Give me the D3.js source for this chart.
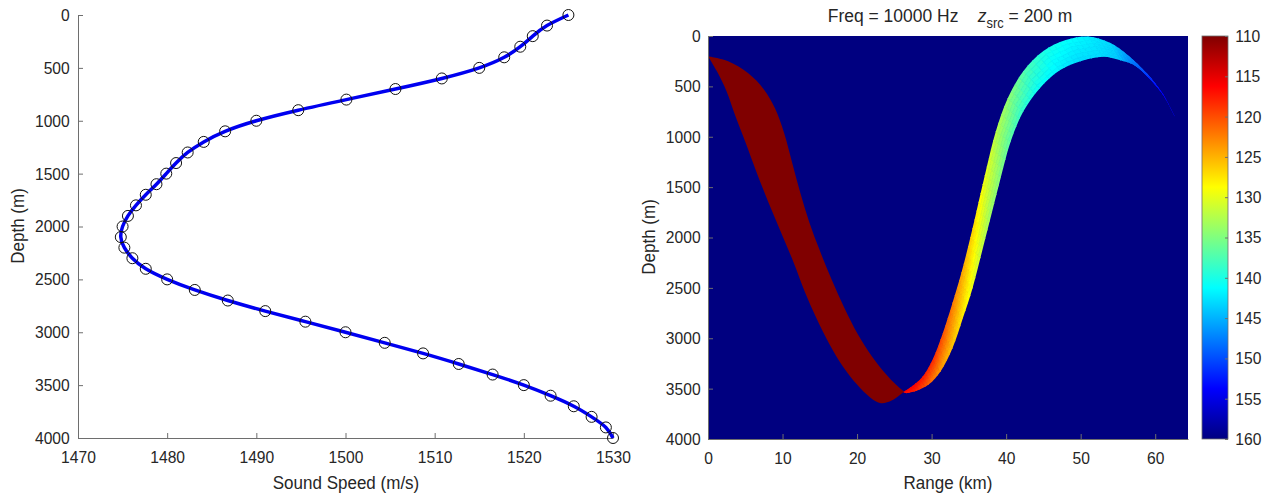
<!DOCTYPE html>
<html>
<head>
<meta charset="utf-8">
<script src="https://cdn.jsdelivr.net/npm/d3@7/dist/d3.min.js"></script>
<style>
  body { margin: 0; background: #fff; }
  text { font-family: 'Liberation Sans', Arial, Helvetica, sans-serif; fill: #262626; }
</style>
</head>
<body>
<svg id="chart" width="1269" height="493"></svg>
<script>
// ---- sound speed profile (left) ----
const profileDepth = [0, 100, 200, 300, 400, 500, 600, 700, 800, 900, 1000, 1100, 1200, 1300,
  1400, 1500, 1600, 1700, 1800, 1900, 2000, 2100, 2200, 2300, 2400, 2500, 2600, 2700, 2800,
  2900, 3000, 3100, 3200, 3300, 3400, 3500, 3600, 3700, 3800, 3900, 4000];
const profileSpeed = [1525.0, 1522.6, 1521.0, 1519.6, 1517.8, 1515.0, 1510.8, 1505.6, 1500.1,
  1494.7, 1490.0, 1486.5, 1484.1, 1482.3, 1481.0, 1479.9, 1478.8, 1477.6, 1476.5, 1475.6,
  1475.0, 1474.8, 1475.2, 1476.1, 1477.6, 1480.0, 1483.1, 1486.8, 1491.0, 1495.5, 1500.0,
  1504.4, 1508.7, 1512.7, 1516.5, 1520.0, 1523.0, 1525.6, 1527.6, 1529.2, 1530.0];
const speedTicks = [1470, 1480, 1490, 1500, 1510, 1520, 1530];
const depthTicks = [0, 500, 1000, 1500, 2000, 2500, 3000, 3500, 4000];

// ---- transmission loss field (right) ----
const rangeTicks = [0, 10, 20, 30, 40, 50, 60];
const tlTicks = [110, 115, 120, 125, 130, 135, 140, 145, 150, 155, 160];
// direct band, TL <= 110 dB  [range km, depth m]
const band1Outer = [[0, 200], [1.2, 350], [2.5, 550], [3.7, 800], [5.0, 1050], [6.5, 1350],
  [8.1, 1650], [9.8, 1950], [11.5, 2250], [13.0, 2540], [14.6, 2810], [16.3, 3060],
  [18.1, 3280], [20.0, 3460], [21.8, 3590], [23.2, 3645], [24.7, 3615], [26.2, 3535]];
const band1Inner = [[0, 200], [2.7, 250], [5.4, 370], [7.5, 530], [9.0, 720], [10.2, 960],
  [11.3, 1260], [12.4, 1560], [13.6, 1850], [15.0, 2130], [16.6, 2420], [18.3, 2700],
  [20.1, 2960], [22.0, 3180], [23.8, 3350], [25.2, 3460], [26.3, 3530]];
// refracted band after bottom turning point, edges + TL along each edge
const band2Outer = [[26.2, 3535], [27.5, 3470], [28.8, 3380], [30.2, 3200], [31.5, 2950],
  [32.8, 2650], [34.0, 2350], [35.2, 2000], [36.3, 1650], [37.4, 1300], [38.6, 950],
  [40.2, 620], [42.3, 350], [45.0, 150], [48.0, 40], [51.0, 5], [54.0, 70], [56.5, 200],
  [59.0, 380], [61.0, 570], [62.6, 790]];
const band2Inner = [[26.6, 3545], [28.0, 3520], [29.6, 3460], [31.2, 3330], [32.8, 3100],
  [34.2, 2800], [35.5, 2500], [36.9, 2100], [38.1, 1750], [39.3, 1400], [40.6, 1050],
  [42.3, 750], [44.5, 520], [47.2, 340], [50.0, 250], [53.0, 205], [55.3, 240], [57.2, 290],
  [59.3, 430], [61.2, 600], [62.6, 800]];
const band2TlOuter = [116, 116, 117, 118, 120, 122, 124, 126, 128, 130, 132, 134, 137, 140,
  141, 142, 143, 146, 150, 153, 158];
const band2TlInner = [117, 118, 121, 124, 126, 128, 130, 132, 134, 135, 137, 139, 141, 142,
  143, 143, 144, 148, 152, 155, 158];

const svg = d3.select('#chart');
const fontTick = 17;
const fontLabel = 18.5;
const squeeze = 0.92; // source glyphs are a bit narrow
const plain = d3.format('d');

function styleAxis(g) {
  g.selectAll('.domain, .tick line').attr('stroke', '#6e6e6e').attr('stroke-width', 1);
  g.selectAll('text')
    .attr('fill', '#262626')
    .style('font-size', fontTick + 'px')
    .attr('transform', `scale(${squeeze},1)`);
}

function label(x, y, txt, rotate) {
  svg
    .append('text')
    .attr('transform', `translate(${x},${y}) rotate(${rotate || 0}) scale(${squeeze},1)`)
    .attr('text-anchor', 'middle')
    .style('font-size', fontLabel + 'px')
    .text(txt);
}

// ================= left: sound speed =================
const xL = d3.scaleLinear().domain([1470, 1530]).range([78, 613]);
const yL = d3.scaleLinear().domain([0, 4000]).range([15, 438]);

svg
  .append('g')
  .attr('transform', `translate(0,${yL.range()[1]})`)
  .call(d3.axisBottom(xL).tickValues(speedTicks).tickFormat(plain)
    .tickSizeInner(-5).tickSizeOuter(0).tickPadding(13))
  .call(styleAxis);

svg
  .append('g')
  .attr('transform', `translate(${xL.range()[0]},0)`)
  .call(d3.axisLeft(yL).tickValues(depthTicks).tickFormat(plain)
    .tickSizeInner(-5).tickSizeOuter(0).tickPadding(9))
  .call(styleAxis);

const profile = profileDepth.map((d, i) => ({ d: d, c: profileSpeed[i] }));

svg
  .append('path')
  .datum(profile)
  .attr('fill', 'none')
  .attr('stroke', '#0000f0')
  .attr('stroke-width', 3.5)
  .attr('d', d3.line().x((p) => xL(p.c)).y((p) => yL(p.d)).curve(d3.curveNatural));

svg
  .append('g')
  .selectAll('circle')
  .data(profile)
  .join('circle')
  .attr('cx', (p) => xL(p.c))
  .attr('cy', (p) => yL(p.d))
  .attr('r', 5.5)
  .attr('fill', 'none')
  .attr('stroke', '#111')
  .attr('stroke-width', 1);

label(346, 489, 'Sound Speed (m/s)');
label(24, 226, 'Depth (m)', -90);

// ================= right: TL field =================
const xR = d3.scaleLinear().domain([0, 64.4]).range([708, 1188]);
const yR = d3.scaleLinear().domain([0, 4000]).range([36, 439]);

// jet colormap, reversed so low TL is red
const jetTl = [160, 153.75, 141.25, 128.75, 116.25, 110];
const jetCol = ['#000080', '#0000ff', '#00ffff', '#ffff00', '#ff0000', '#800000'];
const tlColor = d3.scaleLinear().domain(jetTl).range(jetCol).clamp(true);

const defs = svg.append('defs');
const field = svg.append('g');

field
  .append('rect')
  .attr('x', xR.range()[0])
  .attr('y', yR.range()[0])
  .attr('width', xR.range()[1] - xR.range()[0])
  .attr('height', yR.range()[1] - yR.range()[0])
  .attr('fill', tlColor(160));

const edge = d3.line().x((p) => xR(p[0])).y((p) => yR(p[1])).curve(d3.curveCatmullRom.alpha(0.5));
const outline = (a, b) => edge(a) + edge(b.slice().reverse()).replace(/^M/, 'L') + 'Z';

// band 1: uniform
field.append('path').attr('d', outline(band1Outer, band1Inner)).attr('fill', tlColor(110));

// band 2: clip to smooth outline, fill with small shaded cells
defs.append('clipPath').attr('id', 'band2clip').append('path').attr('d', outline(band2Outer, band2Inner));

const lerp = (a, b, t) => a + (b - a) * t;
const pt = (i, f) => [
  lerp(xR(band2Outer[i][0]), xR(band2Inner[i][0]), f),
  lerp(yR(band2Outer[i][1]), yR(band2Inner[i][1]), f),
];
const cells = [];
const M = 4, K = 6;
for (let i = 0; i < band2Outer.length - 1; i++) {
  for (let m = 0; m < M; m++) {
    const u0 = m / M, u1 = (m + 1) / M, um = (m + 0.5) / M;
    for (let k = 0; k < K; k++) {
      const f0 = k === 0 ? -0.4 : k / K;
      const f1 = k === K - 1 ? 1.4 : (k + 1) / K;
      const fm = (k + 0.5) / K;
      const corner = (u, f) => {
        const a = pt(i, f), b = pt(i + 1, f);
        return [lerp(a[0], b[0], u), lerp(a[1], b[1], u)];
      };
      const tlA = lerp(band2TlOuter[i], band2TlInner[i], fm);
      const tlB = lerp(band2TlOuter[i + 1], band2TlInner[i + 1], fm);
      cells.push({
        poly: [corner(u0, f0), corner(u0, f1), corner(u1, f1), corner(u1, f0)],
        tl: lerp(tlA, tlB, um),
      });
    }
  }
}

field
  .append('g')
  .attr('clip-path', 'url(#band2clip)')
  .selectAll('path')
  .data(cells)
  .join('path')
  .attr('d', (c) => 'M' + c.poly.join('L') + 'Z')
  .attr('fill', (c) => tlColor(c.tl))
  .attr('stroke', (c) => tlColor(c.tl))
  .attr('stroke-width', 0.8);

svg
  .append('g')
  .attr('transform', `translate(0,${yR.range()[1]})`)
  .call(d3.axisBottom(xR).tickValues(rangeTicks).tickFormat(plain)
    .tickSizeInner(-5).tickSizeOuter(0).tickPadding(13))
  .call(styleAxis);

svg
  .append('g')
  .attr('transform', `translate(${xR.range()[0]},0)`)
  .call(d3.axisLeft(yR).tickValues(depthTicks).tickFormat(plain)
    .tickSizeInner(-5).tickSizeOuter(0).tickPadding(8))
  .call(styleAxis);

label(948, 489, 'Range (km)');
label(655, 237, 'Depth (m)', -90);

// title with subscript
const title = svg
  .append('text')
  .attr('transform', `translate(950,22) scale(${squeeze},1)`)
  .attr('text-anchor', 'middle')
  .style('font-size', '19px')
  .style('white-space', 'pre');
title.append('tspan').text('Freq = 10000 Hz    ');
title.append('tspan').style('font-style', 'italic').text('z');
title.append('tspan').attr('dy', 6).style('font-size', '14px').text('src');
title.append('tspan').attr('dy', -6).text(' = 200 m');

// ---- colorbar ----
const cb = { x: 1202, w: 26 };
const yC = d3.scaleLinear().domain([110, 160]).range([36, 439]);

const grad = defs
  .append('linearGradient')
  .attr('id', 'jet')
  .attr('x1', 0).attr('y1', 0).attr('x2', 0).attr('y2', 1);
grad
  .selectAll('stop')
  .data(jetTl.slice().reverse())
  .join('stop')
  .attr('offset', (t) => (t - 110) / 50)
  .attr('stop-color', (t) => tlColor(t));

svg
  .append('rect')
  .attr('x', cb.x)
  .attr('y', yC.range()[0])
  .attr('width', cb.w)
  .attr('height', yC.range()[1] - yC.range()[0])
  .attr('fill', 'url(#jet)')
  .attr('stroke', '#6e6e6e')
  .attr('stroke-width', 0.8);

svg
  .append('g')
  .attr('transform', `translate(${cb.x + cb.w},0)`)
  .call(d3.axisRight(yC).tickValues(tlTicks).tickSizeInner(-3).tickSizeOuter(0).tickPadding(8))
  .call(styleAxis)
  .call((g) => g.select('.domain').remove());
</script>
</body>
</html>
